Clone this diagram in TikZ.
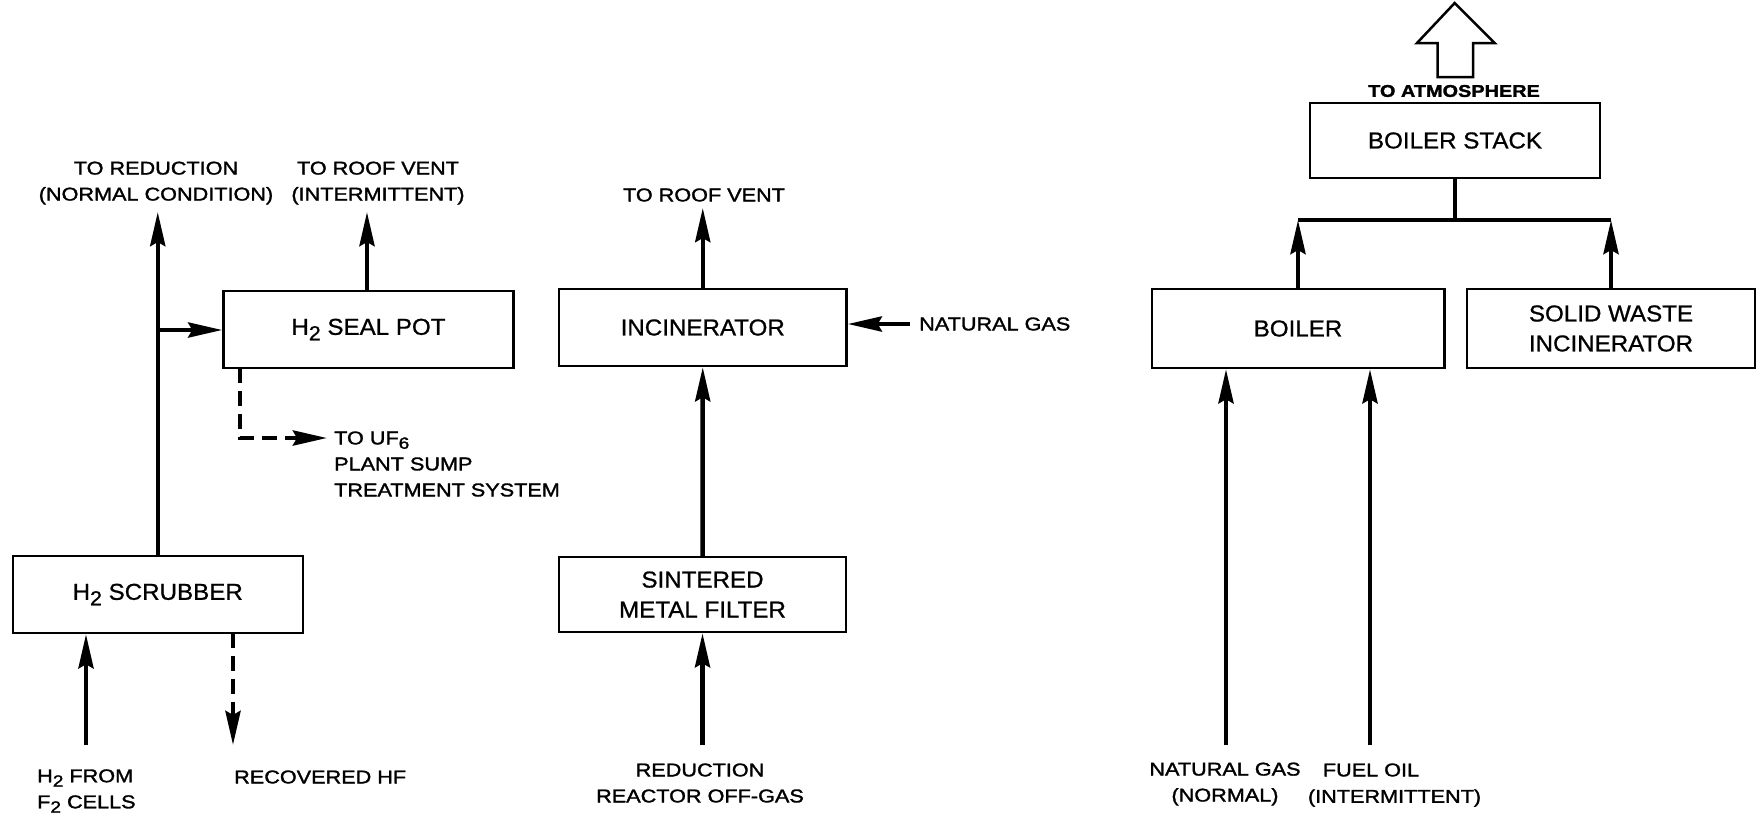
\documentclass[tikz,border=0pt]{standalone}
\usepackage{fontspec}
\usepackage{graphicx}
\setmainfont{Liberation Sans}
\newfontfamily\boxfont[FakeStretch=1.05,FakeBold=0.9]{Liberation Sans}
\newfontfamily\lblfont[FakeStretch=1.17,FakeBold=1.6]{Liberation Sans}
\usetikzlibrary{arrows.meta}
\newcommand\lsub[1]{\raisebox{-0.45ex}{\scalebox{0.88}{#1}}}
\tikzset{
  box/.style={draw, line width=2.5pt, minimum width=290, minimum height=77, inner sep=0pt,
    font=\boxfont\fontsize{23}{30}\selectfont, align=center},
  lbl/.style={font=\lblfont\fontsize{18.5}{26}\selectfont, inner sep=0pt, align=center},
  flow/.style={line width=4.5pt, -{Stealth[length=34pt,width=15pt,inset=4pt]}},
  dflow/.style={flow, dash pattern=on 15pt off 8pt, line join=miter},
  pipe/.style={line width=4.5pt},
}
\begin{document}
\begin{tikzpicture}[x=1pt,y=-1pt]
\useasboundingbox (0,0) rectangle (1760,815);
% boxes
\node[box] (scrub) at (157.75,594.5) {H\lsub{2} SCRUBBER};
\node[box] (seal) at (368.5,329.5) {H\lsub{2} SEAL POT};
\node[box, minimum width=287.5] (inc) at (702.75,327.5) {INCINERATOR};
\node[box, minimum width=287, minimum height=75] (filt) at (702.5,594.5) {SINTERED\\METAL FILTER};
\node[box, minimum height=75] (stack) at (1455,140.5) {BOILER STACK};
\node[box, minimum width=292.5, minimum height=79] (boiler) at (1298,328.5) {BOILER};
\node[box, minimum width=288, minimum height=79] (swi) at (1611,328.5) {SOLID WASTE\\INCINERATOR};
% labels
\node[lbl] (lred) at (156,183) {TO REDUCTION\\(NORMAL CONDITION)};
\node[lbl] (lrv1) at (378,183) {TO ROOF VENT\\(INTERMITTENT)};
\node[lbl, align=left, anchor=west] (luf) at (334,464) {TO UF\lsub{6}\\PLANT SUMP\\TREATMENT SYSTEM};
\node[lbl, align=left, anchor=west] (lh2) at (37,791) {H\lsub{2} FROM\\F\lsub{2} CELLS};
\node[lbl, anchor=west] (lhf) at (234,777) {RECOVERED HF};
\node[lbl] (lrv2) at (704,195) {TO ROOF VENT};
\node[lbl, anchor=west] (lng) at (919,324) {NATURAL GAS};
\node[lbl] (loff) at (700,783) {REDUCTION\\REACTOR OFF-GAS};
\node[lbl, font=\lblfont\bfseries\fontsize{17}{22}\selectfont] (latm) at (1454,91) {TO ATMOSPHERE};
\node[lbl] (lngb) at (1225,784) {NATURAL GAS\\(NORMAL)};
\node[lbl] (lfo) at (1371,770) {FUEL OIL};
\node[lbl] (lint) at (1394.5,798) {(INTERMITTENT)};
% coordinates
\coordinate (redtip) at (157.75,212);
\coordinate (br) at (157.75,330);
\coordinate (rv1tip) at (367,212);
\coordinate (dtop) at (240,368);
\coordinate (dcorner) at (240,438);
\coordinate (dend) at (327,438);
\coordinate (h2src) at (86,745);
\coordinate (hfend) at (233,745);
\coordinate (hftop) at (233,633);
\coordinate (rv2tip) at (702.75,208);
\coordinate (ngsrc) at (910,324);
\coordinate (offsrc) at (702.5,745);
\coordinate (ngbsrc) at (1226,745);
\coordinate (fosrc) at (1370,745);
\coordinate (jl) at (1298,220);
\coordinate (jr) at (1611,220);
\coordinate (jm) at (1455,220);
% connectors
\draw[flow] (scrub.north) -- (redtip);
\draw[flow] (br) -- (seal.west |- br);
\draw[flow] (seal.north -| rv1tip) -- (rv1tip);
\draw[dflow] (dtop) -- (dcorner) -- (dend);
\draw[flow] (h2src) -- (h2src |- scrub.south);
\draw[dflow] (hftop) -- (hfend);
\draw[flow] (filt.north) -- (inc.south);
\draw[flow] (inc.north) -- (rv2tip);
\draw[flow] (ngsrc) -- (inc.east |- ngsrc);
\draw[flow] (offsrc) -- (filt.south);
\draw[flow] (ngbsrc) -- (ngbsrc |- boiler.south);
\draw[flow] (fosrc) -- (fosrc |- boiler.south);
\draw[flow] (boiler.north) -- (jl);
\draw[flow] (swi.north) -- (jr);
\draw[pipe] (jl) -- (jr);
\draw[pipe] (stack.south) -- (jm);
% hollow arrow to atmosphere
\draw[line width=2.5pt, line join=miter] (1437.5,77) -- (1437.5,43) -- (1417,43) -- (1454.7,3) -- (1494.7,43) -- (1473,43) -- (1473,77) -- cycle;
\end{tikzpicture}
\end{document}
